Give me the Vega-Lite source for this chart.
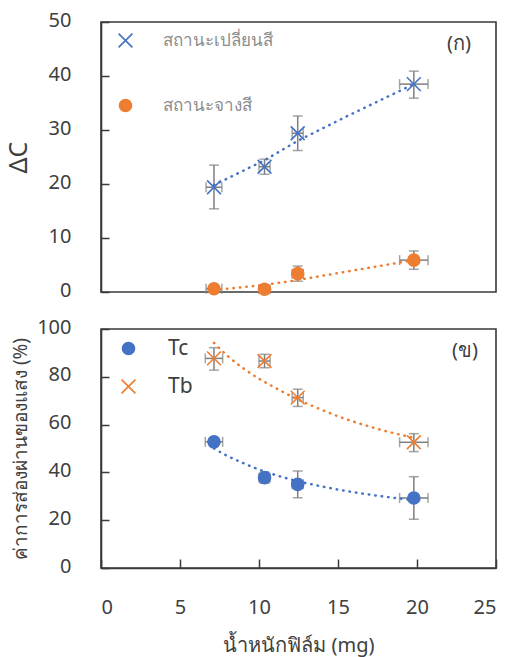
{
  "$schema": "https://vega.github.io/schema/vega-lite/v6.json",
  "padding": {"left": 5, "top": 9, "right": 5, "bottom": 5},
  "background": "white",
  "spacing": 37,
  "bounds": "flush",
  "datasets": {
    "top": [
      {"series": "สถานะเปลี่ยนสี", "x": 7.15, "y": 19.4, "xlo": 6.65, "xhi": 7.65, "ylo": 15.4, "yhi": 23.5},
      {"series": "สถานะเปลี่ยนสี", "x": 10.35, "y": 23.2, "xlo": 10.0, "xhi": 10.7, "ylo": 21.8, "yhi": 24.6},
      {"series": "สถานะเปลี่ยนสี", "x": 12.45, "y": 29.4, "xlo": 12.1, "xhi": 12.8, "ylo": 26.2, "yhi": 32.6},
      {"series": "สถานะเปลี่ยนสี", "x": 19.8, "y": 38.5, "xlo": 18.9, "xhi": 20.7, "ylo": 35.9, "yhi": 40.9},
      {"series": "สถานะจางสี", "x": 7.15, "y": 0.6, "xlo": 6.65, "xhi": 7.65, "ylo": 0.3, "yhi": 0.9},
      {"series": "สถานะจางสี", "x": 10.35, "y": 0.5, "xlo": 10.0, "xhi": 10.7, "ylo": 0.2, "yhi": 0.8},
      {"series": "สถานะจางสี", "x": 12.45, "y": 3.4, "xlo": 12.1, "xhi": 12.8, "ylo": 2.0, "yhi": 4.8},
      {"series": "สถานะจางสี", "x": 19.8, "y": 5.9, "xlo": 18.9, "xhi": 20.7, "ylo": 4.2, "yhi": 7.6}
    ],
    "topTrend": [
      {"series": "สถานะเปลี่ยนสี", "x": 7.15, "y": 19.8},
      {"series": "สถานะเปลี่ยนสี", "x": 10.35, "y": 24.4},
      {"series": "สถานะเปลี่ยนสี", "x": 12.45, "y": 28.0},
      {"series": "สถานะเปลี่ยนสี", "x": 15.6, "y": 32.6},
      {"series": "สถานะเปลี่ยนสี", "x": 19.8, "y": 38.5},
      {"series": "สถานะจางสี", "x": 7.15, "y": 0.4},
      {"series": "สถานะจางสี", "x": 8, "y": 0.6},
      {"series": "สถานะจางสี", "x": 9, "y": 0.9},
      {"series": "สถานะจางสี", "x": 10, "y": 1.2},
      {"series": "สถานะจางสี", "x": 11, "y": 1.6},
      {"series": "สถานะจางสี", "x": 12, "y": 2.0},
      {"series": "สถานะจางสี", "x": 13, "y": 2.5},
      {"series": "สถานะจางสี", "x": 14, "y": 3.0},
      {"series": "สถานะจางสี", "x": 15, "y": 3.5},
      {"series": "สถานะจางสี", "x": 16, "y": 4.0},
      {"series": "สถานะจางสี", "x": 17, "y": 4.5},
      {"series": "สถานะจางสี", "x": 18, "y": 5.0},
      {"series": "สถานะจางสี", "x": 19, "y": 5.5},
      {"series": "สถานะจางสี", "x": 19.8, "y": 5.9}
    ],
    "bottom": [
      {"series": "Tc", "x": 7.15, "y": 52.8, "xlo": 6.6, "xhi": 7.7, "ylo": 51.3, "yhi": 54.3},
      {"series": "Tc", "x": 10.35, "y": 37.8, "xlo": 10.0, "xhi": 10.7, "ylo": 35.5, "yhi": 40.1},
      {"series": "Tc", "x": 12.45, "y": 35.0, "xlo": 12.1, "xhi": 12.8, "ylo": 29.4, "yhi": 40.6},
      {"series": "Tc", "x": 19.8, "y": 29.3, "xlo": 18.9, "xhi": 20.7, "ylo": 20.4, "yhi": 38.2},
      {"series": "Tb", "x": 7.15, "y": 87.7, "xlo": 6.6, "xhi": 7.7, "ylo": 82.8, "yhi": 92.2},
      {"series": "Tb", "x": 10.35, "y": 86.6, "xlo": 10.0, "xhi": 10.7, "ylo": 83.8, "yhi": 89.4},
      {"series": "Tb", "x": 12.45, "y": 71.3, "xlo": 12.1, "xhi": 12.8, "ylo": 67.6, "yhi": 74.8},
      {"series": "Tb", "x": 19.8, "y": 52.6, "xlo": 18.9, "xhi": 20.7, "ylo": 48.7, "yhi": 56.2}
    ],
    "bottomTrend": [
      {"series": "Tc", "x": 7.15, "y": 50.0},
      {"series": "Tc", "x": 8, "y": 46.9},
      {"series": "Tc", "x": 9, "y": 43.9},
      {"series": "Tc", "x": 10, "y": 41.2},
      {"series": "Tc", "x": 11, "y": 39.0},
      {"series": "Tc", "x": 12, "y": 37.1},
      {"series": "Tc", "x": 13, "y": 35.5},
      {"series": "Tc", "x": 14, "y": 34.1},
      {"series": "Tc", "x": 15, "y": 32.8},
      {"series": "Tc", "x": 16, "y": 31.7},
      {"series": "Tc", "x": 17, "y": 30.7},
      {"series": "Tc", "x": 18, "y": 29.8},
      {"series": "Tc", "x": 19, "y": 29.0},
      {"series": "Tc", "x": 19.8, "y": 28.4},
      {"series": "Tb", "x": 7.15, "y": 94.2},
      {"series": "Tb", "x": 8, "y": 88.8},
      {"series": "Tb", "x": 9, "y": 83.6},
      {"series": "Tb", "x": 10, "y": 79.2},
      {"series": "Tb", "x": 11, "y": 75.5},
      {"series": "Tb", "x": 12, "y": 72.0},
      {"series": "Tb", "x": 13, "y": 68.9},
      {"series": "Tb", "x": 14, "y": 66.1},
      {"series": "Tb", "x": 15, "y": 63.5},
      {"series": "Tb", "x": 16, "y": 61.2},
      {"series": "Tb", "x": 17, "y": 59.2},
      {"series": "Tb", "x": 18, "y": 57.3},
      {"series": "Tb", "x": 19, "y": 55.7},
      {"series": "Tb", "x": 19.8, "y": 54.5}
    ]
  },
  "vconcat": [
    {
      "width": 395,
      "height": 270,
      "data": {"name": "top"},
      "encoding": {
        "x": {"type": "quantitative", "scale": {"domain": [0, 25]}, "axis": null},
        "y": {"type": "quantitative", "scale": {"domain": [0, 50]}, "title": "ΔC",
              "axis": {"values": [0, 10, 20, 30, 40, 50], "titleFontSize": 25, "titlePadding": 17}}
      },
      "layer": [
        {
          "mark": {"type": "errorbar", "thickness": 1.5, "color": "#7f7f7f", "ticks": {"size": 10}},
          "encoding": {
            "x": {"field": "x", "type": "quantitative"},
            "y": {"field": "ylo", "type": "quantitative"},
            "y2": {"field": "yhi"}
          }
        },
        {
          "mark": {"type": "errorbar", "thickness": 1.5, "color": "#7f7f7f", "ticks": {"size": 10}},
          "encoding": {
            "y": {"field": "y", "type": "quantitative"},
            "x": {"field": "xlo", "type": "quantitative"},
            "x2": {"field": "xhi"}
          }
        },
        {
          "data": {"name": "topTrend"},
          "transform": [{"filter": "datum.series === 'สถานะเปลี่ยนสี'"}],
          "mark": {"type": "line", "color": "#4472C4", "strokeWidth": 2.5, "strokeDash": [0.5, 6], "strokeCap": "round"},
          "encoding": {"x": {"field": "x", "type": "quantitative"}, "y": {"field": "y", "type": "quantitative"}}
        },
        {
          "data": {"name": "topTrend"},
          "transform": [{"filter": "datum.series === 'สถานะจางสี'"}],
          "mark": {"type": "line", "color": "#ED7D31", "strokeWidth": 2.5, "strokeDash": [0.5, 6], "strokeCap": "round"},
          "encoding": {"x": {"field": "x", "type": "quantitative"}, "y": {"field": "y", "type": "quantitative"}}
        },
        {
          "mark": {"type": "point", "filled": true, "opacity": 1, "strokeWidth": 1.6},
          "encoding": {
            "x": {"field": "x", "type": "quantitative"},
            "y": {"field": "y", "type": "quantitative"},
            "color": {"field": "series", "type": "nominal",
                      "scale": {"domain": ["สถานะเปลี่ยนสี", "สถานะจางสี"], "range": ["#4472C4", "#ED7D31"]},
                      "legend": {"orient": "none", "legendX": 16, "legendY": 10, "title": null, "labelFontSize": 17,
                                 "labelColor": "#8c8c8c", "rowPadding": 45, "labelOffset": 29, "padding": 0,
                                 "symbolStrokeWidth": 1.6, "symbolOpacity": 1}},
            "stroke": {"field": "series", "type": "nominal",
                       "scale": {"domain": ["สถานะเปลี่ยนสี", "สถานะจางสี"], "range": ["#4472C4", "#ED7D31"]}},
            "shape": {"field": "series", "type": "nominal",
                      "scale": {"domain": ["สถานะเปลี่ยนสี", "สถานะจางสี"], "range": ["M-1,-1L1,1M-1,1L1,-1", "circle"]}},
            "size": {"field": "series", "type": "nominal",
                     "scale": {"domain": ["สถานะเปลี่ยนสี", "สถานะจางสี"], "range": [190, 145]}}
          }
        },
        {
          "data": {"values": [{"label": "(ก)"}]},
          "mark": {"type": "text", "fontSize": 20, "fontWeight": "normal", "color": "#404040", "font": "Noto Sans"},
          "encoding": {"text": {"field": "label"}, "x": {"datum": 22.66}, "y": {"datum": 45.9}}
        }
      ]
    },
    {
      "width": 395,
      "height": 239,
      "data": {"name": "bottom"},
      "encoding": {
        "x": {"type": "quantitative", "scale": {"domain": [0, 25]}, "title": "น้ำหนักฟิล์ม (mg)",
              "axis": {"values": [0, 5, 10, 15, 20, 25], "titlePadding": 18, "titleFontSize": 20}},
        "y": {"type": "quantitative", "scale": {"domain": [0, 100]}, "title": "ค่าการส่องผ่านของแสง (%)",
              "axis": {"values": [0, 20, 40, 60, 80, 100], "titleFontSize": 19, "titlePadding": 6}}
      },
      "layer": [
        {
          "mark": {"type": "errorbar", "thickness": 1.5, "color": "#7f7f7f", "ticks": {"size": 10}},
          "encoding": {
            "x": {"field": "x", "type": "quantitative"},
            "y": {"field": "ylo", "type": "quantitative"},
            "y2": {"field": "yhi"}
          }
        },
        {
          "mark": {"type": "errorbar", "thickness": 1.5, "color": "#7f7f7f", "ticks": {"size": 10}},
          "encoding": {
            "y": {"field": "y", "type": "quantitative"},
            "x": {"field": "xlo", "type": "quantitative"},
            "x2": {"field": "xhi"}
          }
        },
        {
          "data": {"name": "bottomTrend"},
          "transform": [{"filter": "datum.series === 'Tc'"}],
          "mark": {"type": "line", "color": "#4472C4", "strokeWidth": 2.5, "strokeDash": [0.5, 6], "strokeCap": "round", "interpolate": "monotone"},
          "encoding": {"x": {"field": "x", "type": "quantitative"}, "y": {"field": "y", "type": "quantitative"}}
        },
        {
          "data": {"name": "bottomTrend"},
          "transform": [{"filter": "datum.series === 'Tb'"}],
          "mark": {"type": "line", "color": "#ED7D31", "strokeWidth": 2.5, "strokeDash": [0.5, 6], "strokeCap": "round", "interpolate": "monotone"},
          "encoding": {"x": {"field": "x", "type": "quantitative"}, "y": {"field": "y", "type": "quantitative"}}
        },
        {
          "mark": {"type": "point", "filled": true, "opacity": 1, "strokeWidth": 1.6},
          "encoding": {
            "x": {"field": "x", "type": "quantitative"},
            "y": {"field": "y", "type": "quantitative"},
            "color": {"field": "series", "type": "nominal",
                      "scale": {"domain": ["Tc", "Tb"], "range": ["#4472C4", "#ED7D31"]},
                      "legend": {"orient": "none", "legendX": 17, "legendY": 9, "title": null, "labelFontSize": 21,
                                 "labelColor": "#404040", "rowPadding": 16, "labelOffset": 29, "padding": 0,
                                 "symbolStrokeWidth": 1.6, "symbolOpacity": 1}},
            "stroke": {"field": "series", "type": "nominal",
                       "scale": {"domain": ["Tc", "Tb"], "range": ["#4472C4", "#ED7D31"]}},
            "shape": {"field": "series", "type": "nominal",
                      "scale": {"domain": ["Tc", "Tb"], "range": ["circle", "M-1,-1L1,1M-1,1L1,-1"]}},
            "size": {"field": "series", "type": "nominal",
                     "scale": {"domain": ["Tc", "Tb"], "range": [145, 190]}}
          }
        },
        {
          "data": {"values": [{"label": "(ข)"}]},
          "mark": {"type": "text", "fontSize": 20, "fontWeight": "normal", "color": "#404040", "font": "Noto Sans"},
          "encoding": {"text": {"field": "label"}, "x": {"datum": 23.04}, "y": {"datum": 90.8}}
        }
      ]
    }
  ],
  "resolve": {"scale": {"color": "independent", "stroke": "independent", "shape": "independent", "size": "independent"}},
  "config": {
    "font": "Noto Sans",
    "view": {"stroke": "#3a3a3a", "strokeWidth": 1.6},
    "axis": {
      "grid": false,
      "domainColor": "#3a3a3a",
      "domainWidth": 1.6,
      "tickColor": "#3a3a3a",
      "tickWidth": 1.5,
      "tickSize": -8,
      "labelPadding": 38,
      "labelFontSize": 20,
      "labelColor": "#404040",
      "labelFont": "Noto Sans",
      "titleFont": "Noto Sans",
      "titleColor": "#404040",
      "titleFontWeight": "normal",
      "labelOffset": -2
    },
    "axisX": {"labelOffset": 0, "tickSize": -9, "labelPadding": 38},
    "legend": {"labelFont": "Noto Sans"}
  }
}
